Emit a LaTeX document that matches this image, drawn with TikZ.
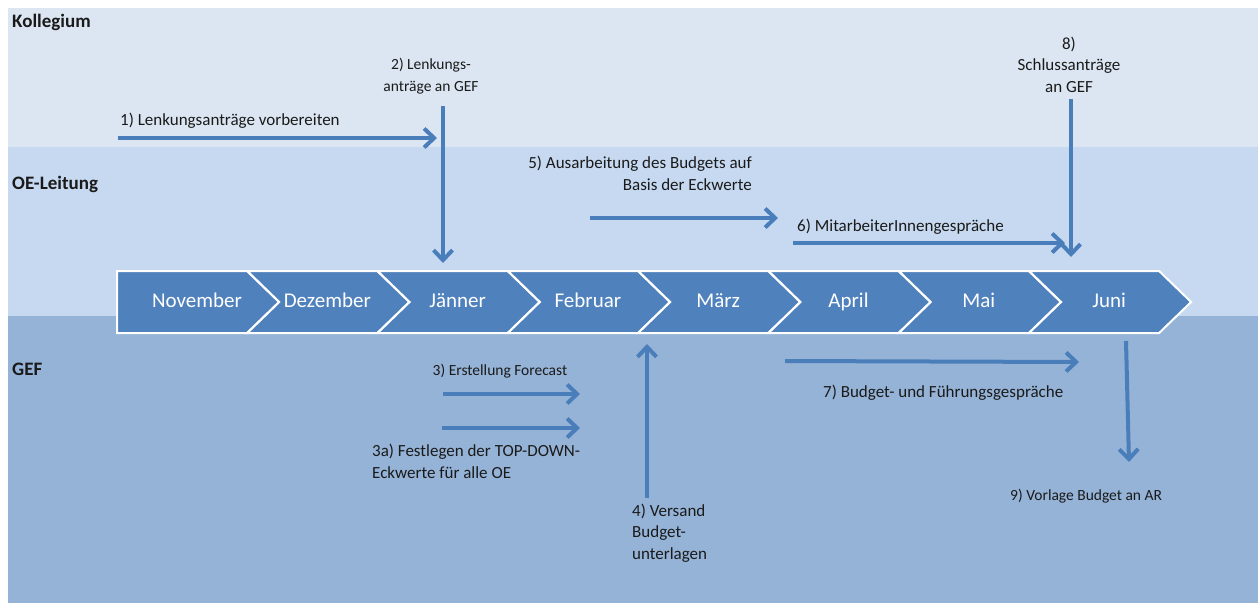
\documentclass[tikz,border=0pt]{standalone}
\usepackage{fontspec}
\setmainfont{Carlito}
\usetikzlibrary{arrows.meta}
\definecolor{bandA}{HTML}{DCE6F2}
\definecolor{bandB}{HTML}{C6D9F1}
\definecolor{bandC}{HTML}{95B3D7}
\definecolor{chev}{HTML}{4F81BD}
\definecolor{arr}{HTML}{4A7EBB}
\definecolor{txt}{HTML}{1A1A1A}
\tikzset{
  flow/.style={draw=arr, line width=4pt, -{Straight Barb[length=10pt,width=19pt]}},
  chevbox/.style={fill=chev, draw=white, line width=2pt, line join=miter},
  month/.style={text=white, font=\fontsize{21}{25}\selectfont, inner sep=0pt, anchor=base},
  lane/.style={text=txt, font=\bfseries\fontsize{19}{23}\selectfont, inner sep=0pt, anchor=base west},
  lbl/.style={text=txt, font=\fontsize{17}{21.5}\selectfont, inner sep=0pt, anchor=base},
  lbls/.style={text=txt, font=\fontsize{15.5}{21.5}\selectfont, inner sep=0pt, anchor=base},
}
\begin{document}
\begin{tikzpicture}[x=1pt,y=-1pt]
\useasboundingbox (0,0) rectangle (1258,603);
\fill[white] (0,0) rectangle (1258,603);
\fill[bandA] (8,8) rectangle (1258,147);
\fill[bandB] (8,147) rectangle (1258,316);
\fill[bandC] (8,316) rectangle (1258,603);

% lane titles
\node[lane] (kol) at (12,27) {Kollegium};
\node[lane] (oel) at (12,189) {OE-Leitung};
\node[lane] (gef) at (12,375) {GEF};

% chevrons
\foreach \m [count=\i from 0] in {November,Dezember,Jänner,Februar,März,April,Mai,Juni} {
  \pgfmathsetmacro\L{117+130.3*\i}
  \ifnum\i=0
    \path[chevbox] (\L,271) -- (\L+130,271) -- (\L+162,302) -- (\L+130,333) -- (\L,333) -- cycle;
  \else
    \path[chevbox] (\L,271) -- (\L+130,271) -- (\L+162,302) -- (\L+130,333) -- (\L,333) -- (\L+32,302) -- cycle;
  \fi
  \node[month] (m\i) at (\L+80,307) {\m};
}

% arrow end points
\coordinate (a1s) at (118,138);  \coordinate (a1e) at (437,138);
\coordinate (a2s) at (443,106);  \coordinate (a2e) at (443,263);
\coordinate (a3s) at (443,394);  \coordinate (a3e) at (580,394);
\coordinate (a3as) at (442,428); \coordinate (a3ae) at (580,428);
\coordinate (a4s) at (647,498);  \coordinate (a4e) at (647,344);
\coordinate (a5s) at (590,218);  \coordinate (a5e) at (778,218);
\coordinate (a6s) at (793,243);  \coordinate (a6e) at (1065,243);
\coordinate (a7s) at (785,361);  \coordinate (a7e) at (1079,362);
\coordinate (a8s) at (1071,99);  \coordinate (a8e) at (1071,257);
\coordinate (a9s) at (1126,341); \coordinate (a9e) at (1129,462);

\foreach \a in {1,2,3,3a,4,5,6,7,8,9} {
  \draw[flow] (a\a s) -- (a\a e);
}

% labels (multi-line nodes: base = last line)
\node[lbl, anchor=base west] (t1) at (120,125) {1) Lenkungsanträge vorbereiten};
\node[lbls, align=center] (t2) at (431,91) {2) Lenkungs-\\anträge an GEF};
\node[lbls] (t3) at (500,375) {3) Erstellung Forecast};
\node[lbl, align=left, anchor=base west] (t3a) at (372,478) {3a) Festlegen der TOP-DOWN-\\Eckwerte für alle OE};
\node[lbl, align=left, anchor=base west] (t4) at (632,559) {4) Versand\\Budget-\\unterlagen};
\node[lbl, align=right, anchor=base east] (t5) at (752,190) {5) Ausarbeitung des Budgets auf\\Basis der Eckwerte};
\node[lbl, anchor=base west] (t6) at (797,231) {6) MitarbeiterInnengespräche};
\node[lbl, anchor=base west] (t7) at (823,397) {7) Budget- und Führungsgespräche};
\node[lbl, align=center] (t8) at (1069,92) {8)\\Schlussanträge\\an GEF};
\node[lbls, anchor=base west] (t9) at (1010,500) {9) Vorlage Budget an AR};
\end{tikzpicture}
\end{document}
